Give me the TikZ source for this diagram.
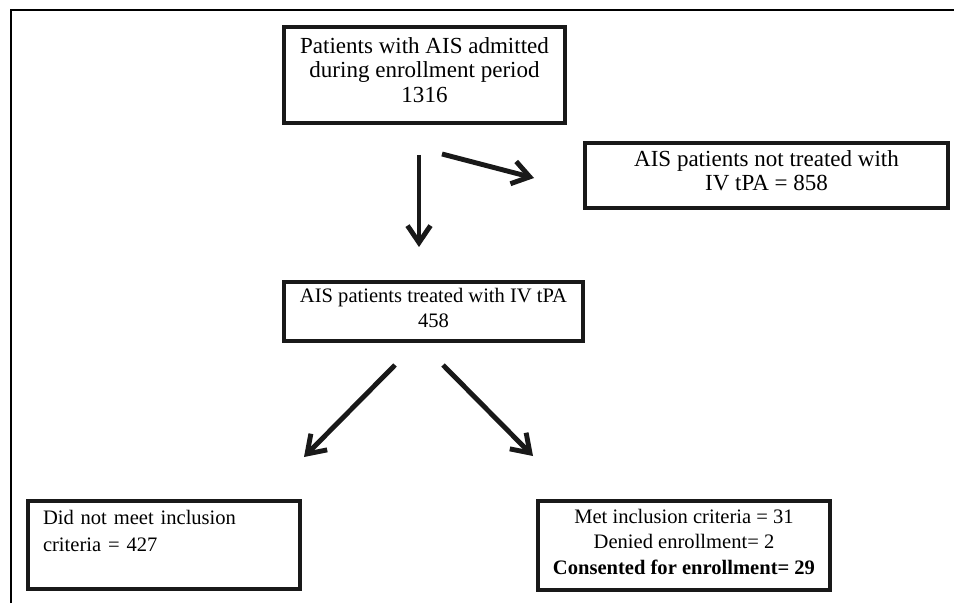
\documentclass[tikz,border=0pt]{standalone}
\usepackage{fontspec}
\setmainfont{Liberation Serif}
\usepackage{tikz}
\usetikzlibrary{arrows.meta}
\newcommand{\bigsz}{\fontsize{13.1}{14.2}\selectfont}
\newcommand{\smallsz}{\fontsize{11.7}{14.5}\selectfont}
\newcommand{\lowstrut}[1]{\rule[-#1]{0pt}{#1}}
\tikzset{
    flowbox/.style={draw=black!90, line width=1.8pt, inner sep=0pt, align=center},
    flowarrow/.style={black!90, line width=2.8pt, -{Straight Barb[length=3.4mm, width=4.6mm]}}}

\begin{document}
\begin{tikzpicture}

                    \useasboundingbox (0,0) rectangle (19.08,12.06);
                    \draw[line width=1.3pt] (0.22,0) |- (19.08,11.86);

                    \node[flowbox, font=\bigsz, minimum width=5.62cm, minimum height=1.92cm] (adm) at (8.49,10.56) {Patients with AIS admitted\\during enrollment period\\1316\lowstrut{0.2cm}};
                    \node[flowbox, font=\bigsz, minimum width=7.26cm, minimum height=1.30cm] (ntr) at (15.33,8.55) {AIS patients not treated with\\IV tPA = 858\lowstrut{0.2cm}};
                    \node[flowbox, font=\smallsz, minimum width=5.98cm, minimum height=1.18cm] (trt) at (8.67,5.83) {AIS patients treated with IV tPA\\458\lowstrut{0.14cm}};
                    \node[flowbox, font=\fontsize{11.7}{15.4}\selectfont, align=left, inner xsep=0.3cm, text width=4.84cm, minimum height=1.76cm] (dnm) at (3.28,1.16) {Did not meet inclusion\\criteria = 427\lowstrut{0.58cm}};
                    \node[flowbox, font=\smallsz, minimum width=5.84cm, minimum height=1.78cm] (met) at (13.68,1.15) {Met inclusion criteria = 31\\Denied enrollment= 2\\\textbf{Consented for enrollment= 29}\lowstrut{0.16cm}};

                    \coordinate (a1) at (8.38,8.96);
                    \coordinate (a2) at (8.38,7.12);
                    \coordinate (b1) at (8.84,8.98);
                    \coordinate (b2) at (10.68,8.50);
                    \coordinate (c1) at (7.90,4.76);
                    \coordinate (c2) at (6.08,2.92);
                    \coordinate (d1) at (8.86,4.76);
                    \coordinate (d2) at (10.66,2.94);

                    \draw[flowarrow] (a1) -- (a2);
                    \draw[flowarrow] (b1) -- (b2);
                    \draw[flowarrow] (c1) -- (c2);
                    \draw[flowarrow] (d1) -- (d2);

                \end{tikzpicture}
\end{document}
